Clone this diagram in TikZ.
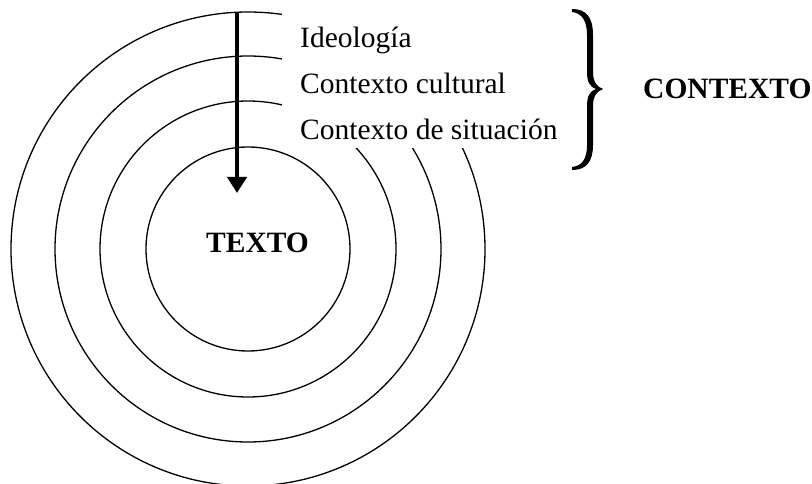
\documentclass[tikz,border=0pt]{standalone}
\usepackage{fontspec}
\setmainfont{Liberation Serif}
\usetikzlibrary{arrows.meta}
\begin{document}
\begin{tikzpicture}[x=1pt,y=-1pt,
  ring/.style={line width=1.3pt},
  lbl/.style={anchor=base west,inner sep=0pt,font=\fontsize{29.5}{35}\selectfont},
  blbl/.style={lbl,font=\fontsize{29.5}{35}\selectfont\bfseries}]
\useasboundingbox (0,0) rectangle (812,484);
\coordinate (c) at (248,249);
\draw[ring] (c) circle (102);
\draw[ring] (c) circle (148);
\draw[ring] (c) circle (193);
\draw[ring] (c) circle (237);
\fill[white] (282,0) rectangle (566,148);
\node[lbl] (ideo) at (300,48) {Ideología};
\node[lbl] (cult) at (300,94) {Contexto cultural};
\node[lbl] (sit) at (300,140) {Contexto de situación};
\node[blbl] (texto) at (206,252) {TEXTO};
\node[blbl] (contexto) at (643,99) {CONTEXTO};
\coordinate (atop) at (237,12);
\coordinate (atip) at (237,193);
\draw[line width=4pt,-{Triangle[length=16pt,width=19pt]}] (atop) -- (atip);
% brace
\fill (572,9) .. controls (586,9) and (593,17) .. (593,35) -- (593,72)
  .. controls (593,82) and (597,87) .. (603,89)
  .. controls (597,91) and (593,96) .. (593,106) -- (593,145)
  .. controls (593,162) and (586,170) .. (572,170)
  -- (572,167) .. controls (582,166) and (587,159) .. (587,145) -- (587,106)
  .. controls (587,96) and (590,91) .. (596,89)
  .. controls (590,87) and (587,82) .. (587,72) -- (587,35)
  .. controls (587,21) and (582,13) .. (572,12) -- cycle;
\end{tikzpicture}
\end{document}
